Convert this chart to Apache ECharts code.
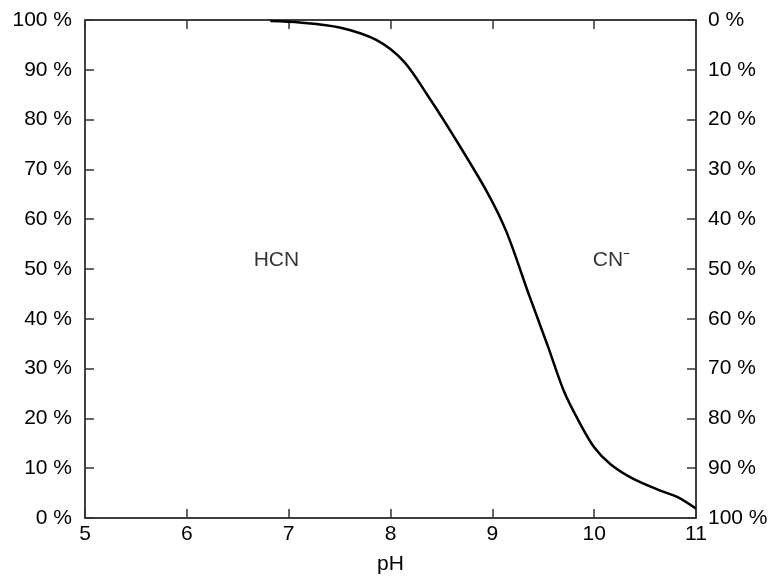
<!DOCTYPE html>
<html><head><meta charset="utf-8">
<script src="https://cdn.jsdelivr.net/npm/echarts@6/dist/echarts.min.js"></script>
<style>html,body{margin:0;padding:0;background:#fff}#c{width:774px;height:580px}</style>
</head><body><div id="c"></div>
<script>
const pH = [6.82, 7.11, 7.50, 7.86, 8.13, 8.37, 8.62, 8.95, 9.14, 9.36, 9.54, 9.70, 9.85, 10.00, 10.16, 10.39, 10.65, 10.82, 11.0];
const hcnPercent = [99.8, 99.5, 98.5, 96.0, 91.7, 84.7, 76.7, 65.4, 57.4, 44.8, 34.8, 25.6, 19.4, 14.2, 10.8, 7.8, 5.5, 4.2, 1.9];
const xTicks = [5, 6, 7, 8, 9, 10, 11];
const speciesLabels = ['HCN', 'CN\u207B'];
const labelPH = [6.88, 10.17];
const labelPct = [51.8, 51.8];

const font = 'Liberation Sans, Arial, sans-serif';
const chart = echarts.init(document.getElementById('c'));
const axisLine = {show: true, lineStyle: {color: '#000', width: 1.5}};
const axisTick = {show: true, inside: true, length: 9, lineStyle: {color: '#333', width: 1.5}};
chart.setOption({
  animation: false,
  grid: {left: 85, width: 611, top: 20, height: 501, containLabel: false},
  xAxis: [
    {type: 'value', min: xTicks[0], max: xTicks[xTicks.length - 1], interval: 1, position: 'bottom',
     axisLine, axisTick, splitLine: {show: false},
     axisLabel: {color: '#000', fontSize: 21, fontFamily: font, margin: 6},
     name: 'pH', nameLocation: 'middle', nameGap: 36,
     nameTextStyle: {color: '#000', fontSize: 21, fontFamily: font}},
    {type: 'value', min: xTicks[0], max: xTicks[xTicks.length - 1], interval: 1, position: 'top',
     axisLine, axisTick, splitLine: {show: false}, axisLabel: {show: false}}
  ],
  yAxis: [
    {type: 'value', min: 0, max: 100, interval: 10, position: 'left',
     axisLine, axisTick, splitLine: {show: false},
     axisLabel: {color: '#000', fontSize: 21, fontFamily: font, margin: 13, formatter: '{value} %'}},
    {type: 'value', min: 0, max: 100, interval: 10, position: 'right', inverse: true,
     axisLine, axisTick, splitLine: {show: false},
     axisLabel: {color: '#000', fontSize: 21, fontFamily: font, margin: 12, formatter: '{value} %'}}
  ],
  series: [
    {type: 'line', data: pH.map((x, i) => [x, hcnPercent[i]]), smooth: 0.3,
     showSymbol: false, lineStyle: {color: '#000', width: 2.5}, xAxisIndex: 0, yAxisIndex: 0},
    {type: 'scatter', symbolSize: 0, xAxisIndex: 0, yAxisIndex: 0, silent: true,
     data: speciesLabels.map((t, i) => ({value: [labelPH[i], labelPct[i]], name: t})),
     label: {show: true, position: 'inside', formatter: p => p.name, color: '#000', textBorderWidth: 0, fontSize: 21, fontFamily: font}}
  ]
});
</script></body></html>
